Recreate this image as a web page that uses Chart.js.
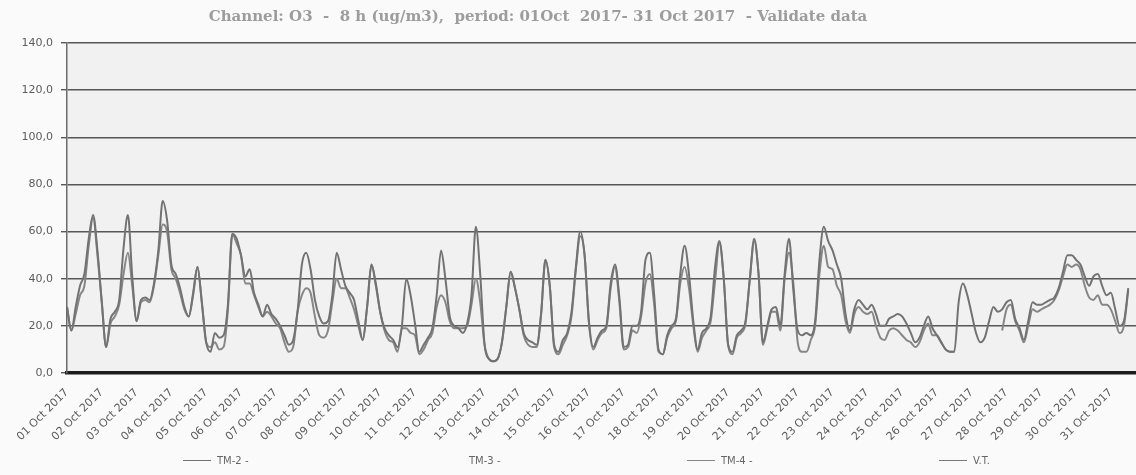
<!DOCTYPE html>
<html lang="en">
<head>
    <meta charset="UTF-8">
    <title>Channel: O3 - 8 h</title>
    <script src="https://cdn.jsdelivr.net/npm/chart.js"></script>
    <style>
        body {
            margin: 0;
            overflow: hidden;
            background: #fafafa;
        }
        .wrap {
            position: relative;
            width: 1160px;
            height: 475px;
        }
        .legend {
            position: absolute;
            left: 183px;
            top: 455px;
            display: flex;
            font: 10px "DejaVu Sans", sans-serif;
            color: #666;
        }
        .legend-item {
            width: 252px;
            display: flex;
            align-items: center;
        }
        .legend-line {
            width: 28px;
            height: 1.5px;
            margin-right: 6px;
        }
    </style>
</head>
<body>
    <div class="wrap">
        <canvas id="o3Chart"></canvas>
        <div class="legend" id="legend"></div>
    </div>

    <script>
        const titleText = 'Channel: O3  -  8 h (ug/m3),  period: 01Oct  2017- 31 Oct 2017  - Validate data';

        const dayLabels = [
            '01 Oct 2017', '02 Oct 2017', '03 Oct 2017', '04 Oct 2017', '05 Oct 2017',
            '06 Oct 2017', '07 Oct 2017', '08 Oct 2017', '09 Oct 2017', '10 Oct 2017',
            '11 Oct 2017', '12 Oct 2017', '13 Oct 2017', '14 Oct 2017', '15 Oct 2017',
            '16 Oct 2017', '17 Oct 2017', '18 Oct 2017', '19 Oct 2017', '20 Oct 2017',
            '21 Oct 2017', '22 Oct 2017', '23 Oct 2017', '24 Oct 2017', '25 Oct 2017',
            '26 Oct 2017', '27 Oct 2017', '28 Oct 2017', '29 Oct 2017', '30 Oct 2017',
            '31 Oct 2017'
        ];

        const seriesNames = ['TM-2 -', 'TM-3 -', 'TM-4 -', 'V.T.'];

        // one value every 3 hours (00, 03, ... 21), one row per day
        const tm2 = [
            28, 18, 28, 37, 42, 57, 67, 52,
            30, 11, 23, 26, 31, 53, 67, 41,
            22, 31, 32, 31, 38, 52, 73, 65,
            46, 42, 36, 28, 24, 34, 45, 30,
            13, 9, 17, 15, 16, 29, 59, 57,
            50, 41, 44, 34, 29, 24, 29, 25,
            23, 20, 16, 12, 14, 26, 46, 51,
            44, 31, 24, 21, 22, 33, 51, 44,
            37, 34, 31, 22, 14, 28, 46, 38,
            26, 19, 16, 14, 11, 20, 40, 33,
            21, 9, 12, 15, 19, 33, 52, 40,
            24, 20, 19, 17, 21, 33, 62, 42,
            12, 6, 5, 6, 13, 28, 43, 36,
            27, 17, 14, 13, 12, 25, 48, 37,
            12, 9, 14, 17, 26, 45, 60, 50,
            22, 11, 15, 18, 20, 38, 46, 32,
            11, 12, 20, 20, 26, 48, 51, 33,
            10, 8, 16, 20, 23, 42, 54, 42,
            22, 10, 17, 19, 24, 45, 56, 40,
            12, 9, 16, 18, 22, 40, 57, 42,
            13, 20, 27, 28, 20, 42, 57, 35,
            18, 16, 17, 16, 22, 48, 62, 56,
            52, 46, 40, 25, 18, 27, 31, 29,
            27, 29, 25, 20, 20, 23, 24, 25,
            24, 21, 17, 13, 15, 20, 24, 19,
            16, 13, 10, 9, 9, 30, 38, 33,
            25, 17, 13, 15, 22, 28, 26, 27,
            30, 31, 23, 19, 14, 22, 30, 29,
            29, 30, 31, 32, 36, 43, 50, 50,
            48, 46, 41, 37, 41, 42, 37, 33,
            34, 27, 20, 22, 36
        ];

        const tm4 = [
            28, 18, 25, 33, 37, 54, 66, 50,
            30, 11, 21, 24, 29, 42, 51, 37,
            22, 30, 31, 30, 37, 50, 63, 60,
            44, 40, 34, 27, 24, 33, 45, 30,
            13, 11, 13, 10, 11, 27, 59, 55,
            50, 38, 38, 33, 28, 24, 26, 24,
            21, 19, 13, 9, 11, 26, 33, 36,
            34, 24, 16, 15, 18, 30, 40, 36,
            36, 32, 27, 20, 14, 28, 46, 37,
            26, 18, 14, 13, 9, 19, 19, 17,
            16, 8, 10, 14, 17, 28, 33, 30,
            22, 19, 19, 19, 20, 29, 40, 30,
            12, 6, 5, 6, 13, 28, 43, 36,
            27, 16, 12, 11, 11, 25, 48, 37,
            11, 8, 12, 16, 24, 44, 58, 50,
            21, 10, 14, 17, 19, 36, 45, 30,
            10, 11, 18, 17, 24, 38, 42, 29,
            9, 8, 15, 19, 22, 38, 45, 36,
            20, 9, 15, 18, 22, 39, 55, 40,
            12, 8, 15, 17, 21, 40, 56, 42,
            12, 19, 26, 26, 18, 40, 51, 38,
            13, 9, 9, 14, 20, 42, 54, 45,
            44, 37, 33, 22, 17, 25, 28, 26,
            25, 26, 20, 15, 14, 18, 19, 18,
            16, 14, 13, 11, 13, 18, 21, 16,
            16, 13, 10, 9, 9, null, null, null,
            null, null, null, null, null, null, null, 18,
            27, 29, 22, 18, 13, 20, 27, 26,
            27, 28, 29, 31, 35, 41, 46, 45,
            46, 44, 37, 32, 31, 33, 29, 29,
            27, 22, 17, 20, 35
        ];

        const tm3 = [];
        const vt = [];

        const toPoints = arr => arr.map((v, i) => ({ x: i * 3, y: v }));

        const lineGray = '#7a7a7a';

        // grey plot background + title drawn left of centre like the original
        const paperPlugin = {
            id: 'paper',
            beforeDraw(chart) {
                const { ctx, chartArea: a } = chart;
                ctx.save();
                ctx.fillStyle = '#f1f1f1';
                ctx.fillRect(a.left, a.top, a.right - a.left, a.bottom - a.top);
                ctx.restore();
            },
            afterDraw(chart) {
                const ctx = chart.ctx;
                ctx.save();
                ctx.font = 'bold 15px "DejaVu Serif", serif';
                ctx.fillStyle = '#9c9c9c';
                ctx.textAlign = 'center';
                ctx.textBaseline = 'middle';
                ctx.fillText(titleText, 538, 17);
                ctx.restore();
            }
        };

        const ctx = document.getElementById('o3Chart').getContext('2d');
        const chart = new Chart(ctx, {
            type: 'line',
            data: {
                datasets: [{
                    label: seriesNames[0],
                    data: toPoints(tm2),
                    borderColor: '#727272',
                    backgroundColor: '#727272',
                    borderWidth: 2
                },
                {
                    label: seriesNames[1],
                    data: tm3,
                    borderColor: 'rgba(0,0,0,0)',
                    backgroundColor: 'rgba(0,0,0,0)',
                    borderWidth: 2
                },
                {
                    label: seriesNames[2],
                    data: toPoints(tm4),
                    borderColor: '#868686',
                    backgroundColor: '#868686',
                    borderWidth: 2
                },
                {
                    label: seriesNames[3],
                    data: vt,
                    borderColor: lineGray,
                    backgroundColor: lineGray,
                    borderWidth: 2
                }]
            },
            options: {
                responsive: true,
                maintainAspectRatio: false,
                animation: false,
                layout: {
                    padding: { top: 43, right: 8, left: 0, bottom: 0 }
                },
                elements: {
                    point: { radius: 0 },
                    line: { tension: 0.35, cubicInterpolationMode: 'monotone' }
                },
                plugins: {
                    legend: { display: false },
                    title: { display: false },
                    tooltip: { enabled: false }
                },
                scales: {
                    x: {
                        type: 'linear',
                        min: 0,
                        max: 744,
                        afterFit: s => { s.height = 102; },
                        grid: { display: false },
                        border: { display: true, color: '#1c1c1c', width: 3.5, dash: [4, 3] },
                        ticks: {
                            stepSize: 24,
                            autoSkip: false,
                            minRotation: 45,
                            maxRotation: 45,
                            padding: 5,
                            color: '#5c5c5c',
                            font: { family: 'DejaVu Sans', size: 11 },
                            callback: v => dayLabels[v / 24] || ''
                        }
                    },
                    y: {
                        min: 0,
                        max: 140,
                        afterFit: s => { s.width = 67; },
                        grid: {
                            color: c => c.tick && c.tick.value === 0 ? 'rgba(0,0,0,0)' : '#575757',
                            lineWidth: 1.4,
                            tickLength: 6,
                            tickColor: '#575757'
                        },
                        border: { display: true, color: '#6a6a6a', width: 1.5 },
                        ticks: {
                            stepSize: 20,
                            padding: 8,
                            color: '#5c5c5c',
                            font: { family: 'DejaVu Sans', size: 11 },
                            callback: v => v.toFixed(1).replace('.', ',')
                        }
                    }
                }
            },
            plugins: [paperPlugin]
        });

        // legend spread across the bottom like the original
        const legendBox = document.getElementById('legend');
        chart.data.datasets.forEach(ds => {
            const item = document.createElement('div');
            item.className = 'legend-item';
            const line = document.createElement('span');
            line.className = 'legend-line';
            line.style.background = ds.borderColor;
            const txt = document.createElement('span');
            txt.textContent = ds.label;
            item.appendChild(line);
            item.appendChild(txt);
            legendBox.appendChild(item);
        });
    </script>
</body>
</html>
